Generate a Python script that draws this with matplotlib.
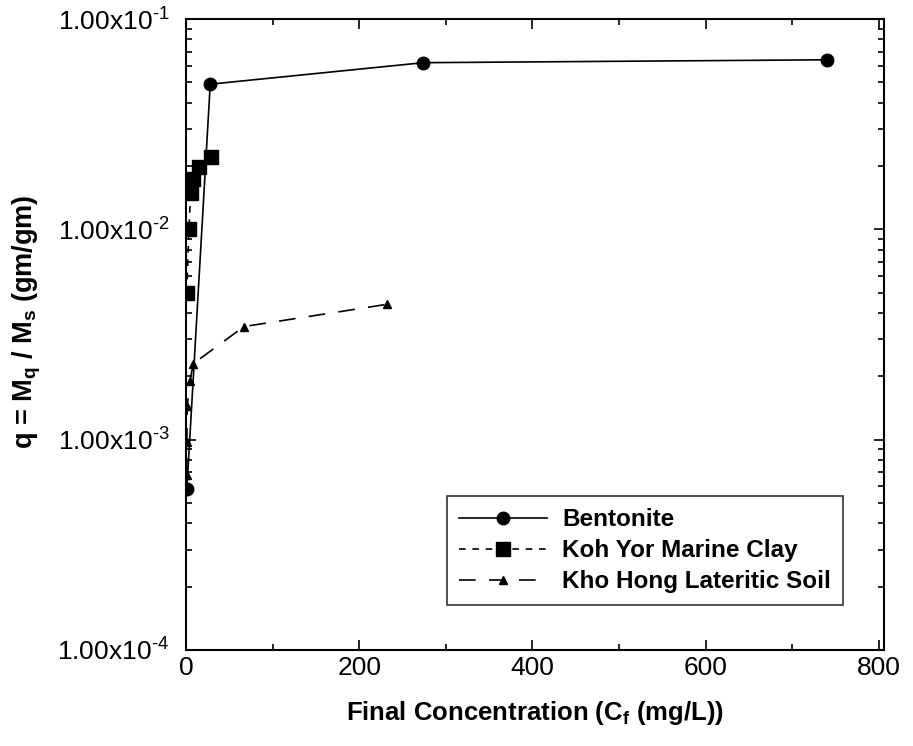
import matplotlib
matplotlib.use("Agg")
import matplotlib.pyplot as plt
from matplotlib.ticker import FixedLocator, FixedFormatter, LogLocator, NullFormatter, MultipleLocator

plt.rcParams['font.family'] = ['Liberation Sans', 'DejaVu Sans']
plt.rcParams['mathtext.fontset'] = 'custom'
plt.rcParams['mathtext.rm'] = 'Liberation Sans'
plt.rcParams['mathtext.bf'] = 'Liberation Sans:bold'
plt.rcParams['mathtext.it'] = 'Liberation Sans'

# Adsorption data: final concentration (mg/L) vs. q (gm/gm)
bentonite_x = [1, 28, 274, 740]
bentonite_q = [5.8e-4, 4.9e-2, 6.2e-2, 6.4e-2]

kohyor_x = [1, 3.4, 5.4, 8, 15, 29]
kohyor_q = [5.0e-3, 1.0e-2, 1.49e-2, 1.73e-2, 1.98e-2, 2.21e-2]

khohong_x = [1, 1, 1.5, 4.5, 8.5, 67, 232]
khohong_q = [6.8e-4, 9.7e-4, 1.45e-3, 1.9e-3, 2.3e-3, 3.45e-3, 4.4e-3]

y_ticks = [1e-4, 1e-3, 1e-2, 1e-1]
y_ticklabels = ['1.00x10$^{\\mathregular{\u2010' + e + '}}$' for e in ['4', '3', '2', '1']]
x_ticks = [0, 200, 400, 600, 800]

fig = plt.figure(figsize=(9.13, 7.46), dpi=100)
ax = fig.add_axes([0.2037, 0.1287, 0.7645, 0.8458])

ax.plot(bentonite_x, bentonite_q, color='black', lw=1.2, ls='-',
        marker='o', ms=9, label='Bentonite')
ax.plot(kohyor_x, kohyor_q, color='black', lw=1.2, ls=(0, (4, 4)),
        marker='s', ms=10, label='Koh Yor Marine Clay')
ax.plot(khohong_x, khohong_q, color='black', lw=1.2, ls=(0, (10, 8)),
        marker='^', ms=6, label='Kho Hong Lateritic Soil')

ax.set_yscale('log')
ax.set_ylim(1e-4, 1e-1)
ax.set_xlim(0, 806)

ax.yaxis.set_major_locator(FixedLocator(y_ticks))
ax.yaxis.set_major_formatter(FixedFormatter(y_ticklabels))
ax.yaxis.set_minor_locator(LogLocator(base=10, subs=range(2, 10)))
ax.yaxis.set_minor_formatter(NullFormatter())
ax.xaxis.set_major_locator(FixedLocator(x_ticks))
ax.xaxis.set_minor_locator(MultipleLocator(100))

ax.tick_params(which='both', direction='in', top=True, right=True, width=1.2)
ax.tick_params(which='major', length=7, labelsize=19)
ax.tick_params(axis='x', which='major', pad=4)
ax.tick_params(axis='y', which='major', pad=12)
ax.tick_params(which='minor', length=4)
for s in ax.spines.values():
    s.set_linewidth(1.5)

ax.set_xlabel(r'Final Concentration (C$_{\mathbf{f}}$ (mg/L))',
              fontsize=18.5, fontweight='bold', labelpad=14)
ax.set_ylabel(r'q = M$_{\mathbf{q}}$ / M$_{\mathbf{s}}$ (gm/gm)',
              fontsize=19.5, fontweight='bold')
ax.yaxis.set_label_coords(-0.205, 0.52)

leg = ax.legend(loc='lower right', bbox_to_anchor=(0.942, 0.071),
                prop={'size': 17.5, 'weight': 'bold'}, frameon=True,
                fancybox=False, edgecolor='black', handlelength=3.6,
                borderpad=0.5, labelspacing=0.32, handletextpad=0.65,
                borderaxespad=0)
leg.get_frame().set_linewidth(1.2)

fig.savefig('out.png', dpi=100, facecolor='white')
